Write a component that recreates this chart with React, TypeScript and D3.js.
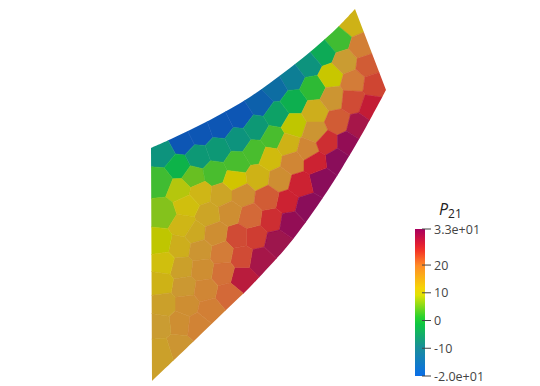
import React from "react";
import * as d3 from "d3";

// Mesh cell centres (mesh units) and the cell value of P21
const siteX = [201,187,172,158,141,124,109,89,69,49,31,11, 28,47,67,87,105,126,143,162,180,194,211, 9,42,64,86,104,122,143,164,182,202,217, 29,49,71,84,107,119,137,164,187,201,224, 91,129,142,157,176,221,207,197,186,171,164,149,136,121,104,117,99,156,139,126,109,91,87,91,71,72,77,79,57,12,36,33,29,31,34,36,29,27,9,12,9,12,9,11,44,49,51,54,59,47,64];
const siteY = [358,341,328,316,303,293,278,265,255,248,239,228, 214,224,231,241,253,266,279,293,305,319,334, 199,204,208,218,229,243,256,269,283,299,316, 191,188,186,201,204,223,236,249,259,281,296, 186,201,219,231,238,274,254,238,221,201,219,196,179,161,144,183,164,174,158,139,121,103,144,124,128,108,86,169,166,168,176,155,134,113,94,76,58,34,138,118,98,76,56,29,148,131,111,91,71,56,147];
const siteP = [12.5,2.5,-3,-8,-12,-15,-17,-19,-19,-19,-19,-8, -1,-7,-7,-8,-7,-5,-2,1.5,9.5,15,19, 2.5,4.5,3,3,3,3,9,13,16,19.5,22, 8.5,12,14,10.5,12.5,11.5,12.5,16,22,23,23.5, 17,17,18,18,25,27,30,32,33,33,26,26,26,25,24,22,21,33,32,31,30,28,23,23,19.5,20.5,21,17,14,6,11,12,13,14.5,15.5,17,17,16,9,11,12.5,14.5,15,14.5,13.5,16,17,18,19,18.5,17];

const upperArcX = [0,19,39,59,79,99,119,139,159,174,189,204];
const upperArcY = [233,241.5,251,261,272,284,298,313,329,342,356,372];
const lowerArcX = [235,215,191,179,167,149,134,114,99,74,44,1];
const lowerArcY = [291,254,213,194,176,151,132,110,94,70,41,0];

const barDomain = [-20,-10,0,10,20,26,33];
const barColors = ["#0a6ee8","#1a8c9c","#0ccf34","#f4e400","#ff8a28","#f22626","#a8005f"];
const meshDomain = [-20,-10,0,10,15,20,26,33];
const meshColors = ["#0a50b8","#108a8c","#10b840","#d2c800","#ca9c30","#d47838","#cc2030","#8a0c5a"];
const barTicks = [20,10,0,-10];
const barEnds = [33,-20];
const barEndLabels = ["3.3e+01","-2.0e+01"];

const x = d3.scaleLinear().domain([0,235]).range([151,386]);
const y = d3.scaleLinear().domain([0,372]).range([381,9]);
const barColor = d3.scaleLinear<string>().domain(barDomain).range(barColors);
const meshColor = d3.scaleLinear<string>().domain(meshDomain).range(meshColors);
const barY = d3.scaleLinear().domain([-20,33]).range([376,229]);

export default function App() {
  const pts = siteX.map((sx,i)=>[x(sx),y(siteY[i])] as [number,number]);
  const vor = d3.Delaunay.from(pts).voronoi([130,0,400,386]);
  const arc = d3.line<[number,number]>().curve(d3.curveCatmullRom);
  const up = arc(upperArcX.map((v,i)=>[x(v),y(upperArcY[i])] as [number,number]))!;
  const lo = arc(lowerArcX.map((v,i)=>[x(v),y(lowerArcY[i])] as [number,number]))!;
  const outline = up + "L" + lo.slice(1) + "Z";
  const font = "'Open Sans', sans-serif";
  const stops = d3.range(0,21).map(i=>-20+i*53/20);
  return (
    <svg width={540} height={386} style={{position:"absolute",left:0,top:0}}>
      <defs>
        <clipPath id="mesh"><path d={outline}/></clipPath>
        <filter id="soft" x="-5%" y="-5%" width="110%" height="110%"><feGaussianBlur stdDeviation={0.5}/></filter>
        <linearGradient id="bar" x1="0" y1="1" x2="0" y2="0">
          {stops.map(s=><stop key={s} offset={(s+20)/53} stopColor={barColor(s)}/>)}
        </linearGradient>
      </defs>
      <g filter="url(#soft)">
        <g clipPath="url(#mesh)">
          {siteP.map((p,i)=>{
            const c = meshColor(p);
            return <path key={i} d={vor.renderCell(i)} fill={c} stroke={c} strokeWidth={0.5}/>;
          })}
        </g>
      </g>
      <rect x={415} y={229} width={10} height={147} fill="url(#bar)"/>
      {[...barEnds,...barTicks].map(t=>(
        <line key={t} x1={422} x2={431} y1={barY(t)} y2={barY(t)} stroke="#444" strokeWidth={1}/>
      ))}
      {barTicks.map(t=>(
        <text key={t} x={434} y={barY(t)+4.5} fontFamily={font} fontSize={12.5} fill="#444">{t}</text>
      ))}
      {barEnds.map((t,i)=>(
        <text key={t} x={434} y={barY(t)+4.5} fontFamily={font} fontSize={12.5} fill="#444">{barEndLabels[i]}</text>
      ))}
      <text x={439} y={215} fontFamily={font} fontSize={16} fill="#222">
        <tspan fontStyle="italic">P</tspan><tspan fontSize={12} dy={3}>21</tspan>
      </text>
    </svg>
  );
}
